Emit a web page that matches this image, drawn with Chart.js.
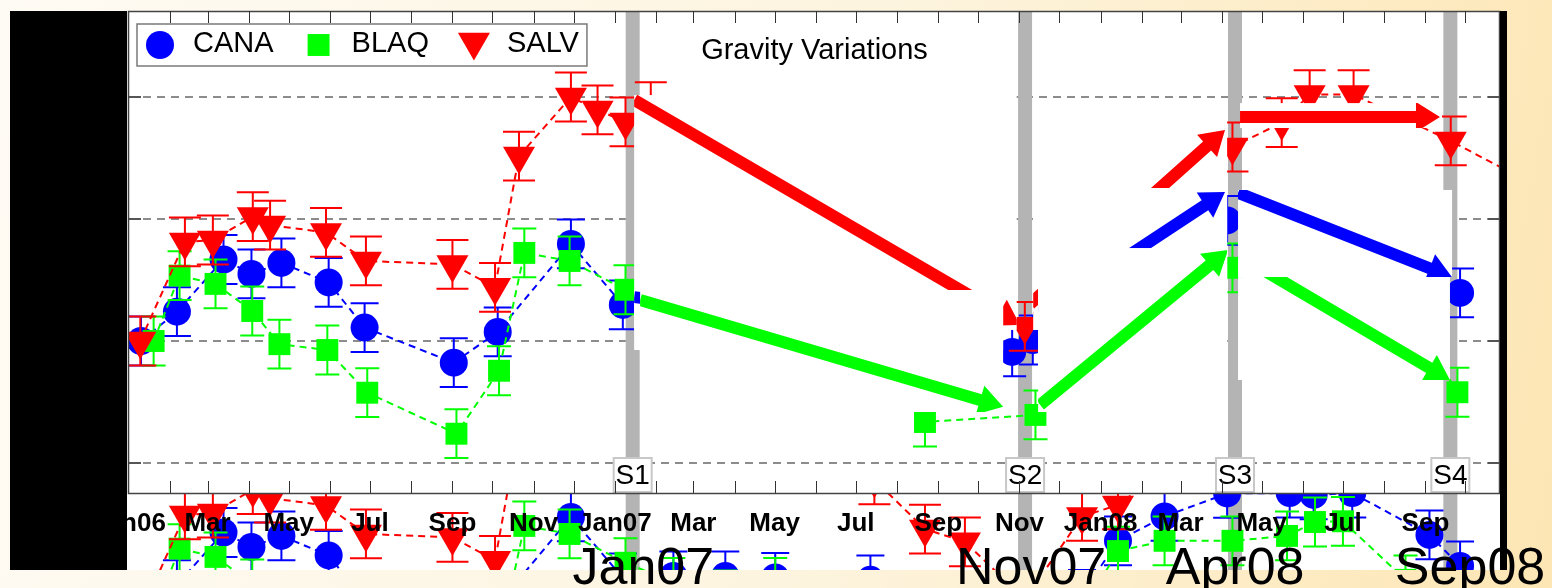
<!DOCTYPE html>
<html>
<head>
<meta charset="utf-8">
<script src="https://cdn.jsdelivr.net/npm/chart.js@4.4.1/dist/chart.umd.min.js"></script>
<style>
html, body { margin: 0; padding: 0; width: 1552px; height: 588px; overflow: hidden;
  background: linear-gradient(100deg, #fefbf4 0%, #fdf4de 55%, #fde6b4 100%); }
#panel { position: absolute; left: 127px; top: 11px; width: 1373px; height: 559px; background: #fff; }
#lowClip { position: absolute; left: 129px; top: 494px; width: 1371px; height: 76px; overflow: hidden; }
#lowClip canvas { position: absolute; left: -129px; top: -221px; }
#main { position: absolute; left: 0; top: 0; }
#blkL { position: absolute; left: 10px; top: 11px; width: 117px; height: 559px; background: #000; }
#blkR { position: absolute; left: 1500px; top: 11px; width: 7px; height: 559px; background: #000; }
</style>
</head>
<body>
<div id="panel"></div>
<div id="lowClip"><canvas id="low" width="1552" height="588"></canvas></div>
<canvas id="main" width="1552" height="588"></canvas>
<div id="blkL"></div>
<div id="blkR"></div>
<script>
// stations
const stations = ['CANA', 'BLAQ', 'SALV']
const colors = ['#0000ff', '#00ff00', '#ff0000']

// x = days since 1 Jan 2006, y = gravity change
const canaDays = [9, 36, 71, 92, 114.5, 150, 177, 244, 277, 332, 371, 409, 448, 485.5, 557, 598, 663.5, 679, 716, 743, 778, 825, 872, 890, 919, 977, 1000]
const canaVals = [0, 12, 33.4, 27.5, 32, 24, 5.5, -8.9, 3.7, 39.8, 14.8, 15.6, 15.6, 15, 14, 5, -4.5, 0.4, 8, 30, 40, 49.4, 49.6, 48.8, 49.6, 32.4, 19.7]
const canaErr  = [10, 10, 10, 10, 10, 10, 10, 10, 10, 10, 10, 10, 10, 10, 10, 10, 10, 10, 10, 10, 10, 10, 10, 10, 10, 10, 10]

const blaqDays = [18.5, 38, 65, 92.6, 113, 149, 179, 246, 278, 297, 331, 373, 409, 448, 485.5, 557, 598, 681, 743, 778, 829, 870, 891, 912, 959, 998]
const blaqVals = [0, 26.8, 23.4, 12.3, -1.3, -3.7, -21.2, -38, -12.2, 36.1, 32.8, 21, 13, 7.8, 13, 0, -33.2, -30.3, 25.8, 30, 30, 32, 37.7, 38, 14, -21]
const blaqErr  = [10, 10, 10, 10, 10, 10, 10, 10, 10, 10, 10, 10, 10, 10, 10, 10, 10, 10, 10, 10, 10, 10, 10, 10, 10, 10]

const salvDays = [8.5, 42, 63, 93, 106, 148, 178, 243, 275, 293, 332, 352, 373, 392, 560, 598, 628, 673, 716, 743, 829, 866, 887, 920, 993, 1052]
const salvVals = [0, 40.6, 41.4, 51, 47.5, 44.5, 32.8, 31.4, 22, 75.8, 100, 94.7, 89.8, 96, 55, 34.8, 29.6, 6, 40, 44.7, 79.5, 89.5, 101, 101, 82, 65]
const salvErr  = [10, 10, 10, 10, 10, 10, 10, 10, 10, 10, 10, 10, 10, 10, 10, 10, 10, 10, 10, 10, 10, 10, 10, 10, 10, 10]

// axes
const xMin = 0, xMax = 1030
const yMin = -62.3, yMax = 135.25
const yGrid = [-50, 0, 50, 100]
const tickLabels = ['Jan06', 'Mar', 'May', 'Jul', 'Sep', 'Nov', 'Jan07', 'Mar', 'May', 'Jul', 'Sep', 'Nov', 'Jan08', 'Mar', 'May', 'Jul', 'Sep']

// survey epochs
const surveyNames = ['S1', 'S2', 'S3', 'S4']
const surveyDays = [378.4, 673.2, 830.9, 992.7]
const epochLabels = ['Jan07', 'Nov07', 'Apr08', 'Sep08']
const epochDays = [386.4, 677.7, 831, 1007.5]

// change arrows between surveys (station index into stations)
const arrowSeries = [2, 0, 1, 2, 0, 1, 2, 0, 1]
const arrowX0 = [379.5, 379.5, 384.0, 677.0, 684.5, 684.5, 834.7, 833.2, 833.2]
const arrowY0 = [98.8, 18.0, 16.8, 15.2, 11.1, -26.2, 91.8, 60.7, 35.2]
const arrowX1 = [669.4, 658.2, 656.7, 823.4, 823.4, 825.7, 984.9, 993.9, 992.4]
const arrowY1 = [6.6, -1.6, -27.0, 86.5, 61.1, 37.3, 91.8, 26.2, -16.0]
// white backing of each arrow picture
const boxX0 = [379.5, 379.5, 384.0, 679.3, 683.0, 683.0, 834.7, 833.2, 833.2]
const boxX1 = [666.9, 656.7, 656.7, 825.0, 825.0, 825.0, 986.4, 994.0, 992.4]
const boxTop = [100.8, 20.9, 20.1, 92.6, 62.7, 38.1, 97.5, 61.9, 26.2]
const boxBot = [4.5, -3.7, -29.1, 4.5, -16.0, -29.1, 87.3, 26.2, -16.0]

const FONT = "'Liberation Sans', Arial, sans-serif"
const DAY0 = Date.UTC(2006, 0, 1)
const monthDay = m => (Date.UTC(2006, m, 1) - DAY0) / 864e5
const pts = (d, v) => d.map((x, i) => ({ x: x, y: v[i] }))

function makeDatasets() {
    const base = { showLine: true, borderWidth: 2, borderDash: [7, 5], pointBorderWidth: 0, tension: 0 }
    return [
        Object.assign({}, base, { label: stations[0], data: pts(canaDays, canaVals), errors: canaErr, cap: 28,
            borderColor: colors[0], backgroundColor: colors[0], pointBackgroundColor: colors[0],
            pointStyle: 'circle', pointRadius: 14, order: 3 }),
        Object.assign({}, base, { label: stations[1], data: pts(blaqDays, blaqVals), errors: blaqErr, cap: 24,
            borderColor: colors[1], backgroundColor: colors[1], pointBackgroundColor: colors[1],
            pointStyle: 'rect', pointRadius: 15.5, order: 2 }),
        Object.assign({}, base, { label: stations[2], data: pts(salvDays, salvVals), errors: salvErr, cap: 32,
            borderColor: colors[2], backgroundColor: colors[2], pointBackgroundColor: colors[2],
            pointStyle: 'triangle', pointRotation: 180, pointRadius: 18.5, order: 1 })
    ]
}

const gridLines = {
    id: 'gridLines',
    beforeDatasetsDraw(chart) {
        const { ctx, chartArea: ca, scales: { y } } = chart
        ctx.save()
        ctx.strokeStyle = '#8c8c8c'
        ctx.lineWidth = 2
        yGrid.forEach(v => {
            const py = Math.round(y.getPixelForValue(v))
            ctx.setLineDash([8, 6])
            ctx.beginPath(); ctx.moveTo(ca.left, py); ctx.lineTo(ca.right, py); ctx.stroke()
            ctx.setLineDash([])
            ctx.strokeStyle = '#555'
            ctx.beginPath(); ctx.moveTo(ca.left, py); ctx.lineTo(ca.left + 12, py)
            ctx.moveTo(ca.right - 12, py); ctx.lineTo(ca.right, py); ctx.stroke()
            ctx.strokeStyle = '#8c8c8c'
        })
        ctx.restore()
    }
}

const surveyBands = {
    id: 'surveyBands',
    beforeDatasetsDraw(chart) {
        const { ctx, chartArea: ca, scales: { x } } = chart
        ctx.save()
        ctx.fillStyle = '#b4b4b4'
        surveyDays.forEach(d => {
            const px = x.getPixelForValue(d)
            ctx.fillRect(px - 7, ca.top, 14, ca.bottom - ca.top)
        })
        ctx.restore()
    }
}

const errorBars = {
    id: 'errorBars',
    afterDatasetDraw(chart, args) {
        const ds = chart.data.datasets[args.index]
        if (!ds.errors) return
        const { ctx, chartArea: ca, scales: { x, y } } = chart
        ctx.save()
        ctx.beginPath(); ctx.rect(ca.left, ca.top, ca.right - ca.left, ca.bottom - ca.top); ctx.clip()
        ctx.strokeStyle = ds.borderColor
        ctx.lineWidth = 2
        const w = ds.cap / 2
        ds.data.forEach((p, i) => {
            const px = x.getPixelForValue(p.x)
            const y0 = y.getPixelForValue(p.y - ds.errors[i])
            const y1 = y.getPixelForValue(p.y + ds.errors[i])
            ctx.beginPath()
            ctx.moveTo(px, y0); ctx.lineTo(px, y1)
            ctx.moveTo(px - w, y0); ctx.lineTo(px + w, y0)
            ctx.moveTo(px - w, y1); ctx.lineTo(px + w, y1)
            ctx.stroke()
        })
        ctx.restore()
    }
}

function drawArrow(ctx, x0, y0, x1, y1) {
    const shaft = 12, headW = 30, headL = 24
    const L = Math.hypot(x1 - x0, y1 - y0)
    const ux = (x1 - x0) / L, uy = (y1 - y0) / L, nx = -uy, ny = ux
    const bx = x1 - ux * headL, by = y1 - uy * headL
    ctx.beginPath()
    ctx.moveTo(x0 + nx * shaft / 2, y0 + ny * shaft / 2)
    ctx.lineTo(bx + nx * shaft / 2, by + ny * shaft / 2)
    ctx.lineTo(bx + nx * headW / 2, by + ny * headW / 2)
    ctx.lineTo(x1, y1)
    ctx.lineTo(bx - nx * headW / 2, by - ny * headW / 2)
    ctx.lineTo(bx - nx * shaft / 2, by - ny * shaft / 2)
    ctx.lineTo(x0 - nx * shaft / 2, y0 - ny * shaft / 2)
    ctx.closePath()
    ctx.fill()
}

const changeArrows = {
    id: 'changeArrows',
    afterDatasetsDraw(chart) {
        const { ctx, scales: { x, y } } = chart
        arrowSeries.forEach((s, i) => {
            const l = x.getPixelForValue(boxX0[i]), r = x.getPixelForValue(boxX1[i])
            const t = y.getPixelForValue(boxTop[i]), b = y.getPixelForValue(boxBot[i])
            ctx.save()
            ctx.fillStyle = '#ffffff'
            ctx.fillRect(l, t, r - l, b - t)
            ctx.beginPath(); ctx.rect(l, t, r - l, b - t); ctx.clip()
            ctx.fillStyle = colors[s]
            drawArrow(ctx, x.getPixelForValue(arrowX0[i]), y.getPixelForValue(arrowY0[i]),
                x.getPixelForValue(arrowX1[i]), y.getPixelForValue(arrowY1[i]))
            ctx.restore()
        })
    }
}

const decorations = {
    id: 'decorations',
    afterDraw(chart) {
        const { ctx, chartArea: ca, scales: { x } } = chart
        ctx.save()

        // survey tags
        ctx.font = `28px ${FONT}`
        ctx.textAlign = 'center'
        ctx.textBaseline = 'middle'
        surveyNames.forEach((n, i) => {
            const px = x.getPixelForValue(surveyDays[i])
            ctx.fillStyle = '#fff'
            ctx.fillRect(px - 19, ca.bottom - 35, 38, 34)
            ctx.strokeStyle = '#c8c8c8'
            ctx.lineWidth = 2
            ctx.strokeRect(px - 19, ca.bottom - 35, 38, 34)
            ctx.fillStyle = '#000'
            ctx.fillText(n, px, ca.bottom - 17)
        })

        // axes box and month ticks
        ctx.strokeStyle = '#444'
        ctx.lineWidth = 1.5
        ctx.strokeRect(ca.left - 0.5, ca.top + 0.5, ca.right - ca.left, ca.bottom - ca.top)
        ctx.lineWidth = 1
        ctx.strokeStyle = '#333'
        for (let m = 1; monthDay(m) < xMax; m++) {
            const px = Math.round(x.getPixelForValue(monthDay(m))) + 0.5
            ctx.beginPath()
            ctx.moveTo(px, ca.top); ctx.lineTo(px, ca.top + 12)
            ctx.moveTo(px, ca.bottom); ctx.lineTo(px, ca.bottom - 12)
            ctx.stroke()
        }

        // legend
        ctx.font = `29px ${FONT}`
        ctx.textAlign = 'left'
        const lx = ca.left + 8, ly = ca.top + 13, lh = 42, cy = ly + lh / 2
        const items = []
        let cx = lx + 23
        stations.forEach(s => {
            items.push(cx)
            cx = cx + 33 + ctx.measureText(s).width + 45
        })
        const lw = cx - 45 - lx + 8
        ctx.fillStyle = '#fff'
        ctx.fillRect(lx, ly, lw, lh)
        ctx.strokeStyle = '#7a7a7a'
        ctx.lineWidth = 1.5
        ctx.strokeRect(lx, ly, lw, lh)
        chart.data.datasets.forEach((ds, i) => {
            ctx.fillStyle = ds.backgroundColor
            const off = ds.pointStyle === 'triangle' ? -3 : 0
            Chart.helpers.drawPoint(ctx, { pointStyle: ds.pointStyle, rotation: ds.pointRotation || 0,
                radius: ds.pointRadius, borderWidth: 0 }, items[i], cy + off)
            ctx.fillStyle = '#000'
            ctx.textBaseline = 'middle'
            ctx.fillText(ds.label, items[i] + 33, cy - 1)
        })

        // title
        ctx.textAlign = 'center'
        ctx.fillText('Gravity Variations', (ca.left + ca.right) / 2, ca.top + 40)

        // month labels
        ctx.font = `bold 26px ${FONT}`
        tickLabels.forEach((t, i) => {
            ctx.fillText(t, x.getPixelForValue(monthDay(2 * i)), ca.bottom + 31)
        })

        // survey epoch labels
        ctx.font = `52px ${FONT}`
        ctx.textBaseline = 'alphabetic'
        epochLabels.forEach((t, i) => {
            ctx.fillText(t, x.getPixelForValue(epochDays[i]), 584)
        })
        ctx.restore()
    }
}

function makeChart(id, extras) {
    return new Chart(document.getElementById(id), {
        type: 'line',
        data: { datasets: makeDatasets() },
        options: {
            responsive: false,
            animation: false,
            devicePixelRatio: 1,
            events: [],
            layout: { autoPadding: false, padding: { left: 129, top: 11, right: 52, bottom: 95 } },
            scales: {
                x: { type: 'linear', display: false, min: xMin, max: xMax },
                y: { type: 'linear', display: false, min: yMin, max: yMax }
            },
            plugins: { legend: { display: false }, title: { display: false }, tooltip: { enabled: false } }
        },
        plugins: extras
    })
}

// copy of the series showing through below the axes
makeChart('low', [surveyBands, errorBars])
window.gravityChart = makeChart('main', [gridLines, surveyBands, errorBars, changeArrows, decorations])
</script>
</body>
</html>
